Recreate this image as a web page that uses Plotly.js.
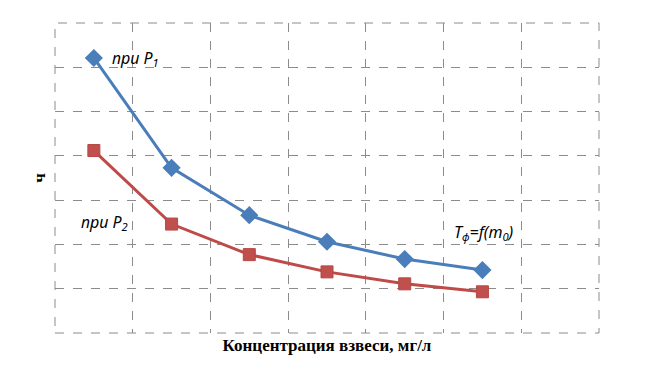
<!DOCTYPE html>
<html><head><meta charset="utf-8">
<script src="https://cdn.plot.ly/plotly-3.0.1.min.js"></script>
<style>html,body{margin:0;padding:0;background:#fff}#chart{width:649px;height:381px}</style>
</head><body><div id="chart"></div>
<script>
const xPoints = [1, 2, 3, 4, 5, 6];
const seriesP1 = [6.21, 3.73, 2.66, 2.06, 1.67, 1.42];
const seriesP2 = [4.12, 2.46, 1.77, 1.38, 1.11, 0.93];
const xTitle = 'Концентрация взвеси, мг/л';
const yTitle = 'ч';

const traces = [
  {x: xPoints, y: seriesP1, type: 'scatter', mode: 'lines+markers', name: 'P1',
   line: {color: '#4A7EBB', width: 3}, marker: {symbol: 'diamond', size: 14, color: '#4A7EBB'}},
  {x: xPoints, y: seriesP2, type: 'scatter', mode: 'lines+markers', name: 'P2',
   line: {color: '#BE4B48', width: 3}, marker: {symbol: 'square', size: 12, color: '#C0504D', line: {color: '#B84744', width: 1}}}
];
const grid = {showgrid: true, gridcolor: '#8c8c8c', griddash: 'dash', gridwidth: 1, zeroline: false,
  showticklabels: false, ticks: '', showline: false, fixedrange: true};
const annFont = {family: 'Noto Sans, Open Sans, sans-serif', size: 16, color: '#000'};
const layout = {
  width: 649, height: 381,
  margin: {l: 55, r: 50, t: 23, b: 48},
  showlegend: false,
  paper_bgcolor: '#fff', plot_bgcolor: '#fff',
  xaxis: Object.assign({}, grid, {range: [0.5, 7.5], tick0: 0.5, dtick: 1,
    title: {text: xTitle, standoff: 6, font: {family: 'Liberation Serif, Times New Roman, serif', size: 17, color: '#000', weight: 'bold'}}}),
  yaxis: Object.assign({}, grid, {range: [0, 7], tick0: 0, dtick: 1,
    title: {text: yTitle, standoff: 4, font: {family: 'Liberation Serif, Times New Roman, serif', size: 17, color: '#000', weight: 'bold'}}}),
  shapes: [
    {type: 'rect', xref: 'paper', yref: 'paper', x0: 0, x1: 1, y0: 0, y1: 1,
     line: {color: '#8c8c8c', width: 1, dash: 'dash'}, layer: 'below'}
  ],
  annotations: [
    {x: 1.53, y: 6.2, xref: 'x', yref: 'y', text: '<i>при P<sub>1</sub></i>', showarrow: false, font: annFont, xanchor: 'center'},
    {x: 1.47, y: 2.5, xref: 'x', yref: 'y', text: '<i>при P<sub>2</sub></i>', showarrow: false, font: annFont, xanchor: 'right'},
    {x: 5.61, y: 2.28, xref: 'x', yref: 'y', text: '<i>T<sub>ф</sub>=f(m<sub>0</sub>)</i>', showarrow: false, font: annFont, xanchor: 'left'}
  ]
};
Plotly.newPlot('chart', traces, layout, {displayModeBar: false, staticPlot: true});
</script></body></html>
